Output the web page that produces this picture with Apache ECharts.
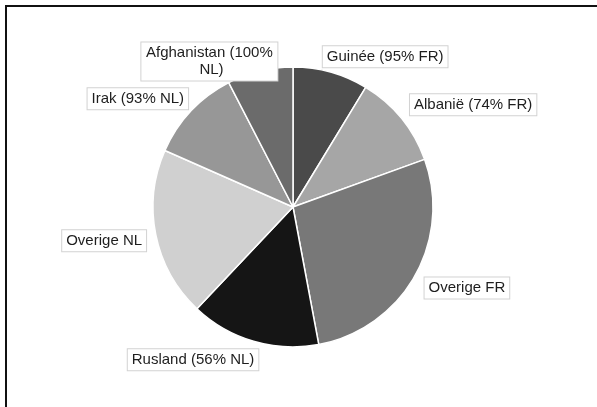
<!DOCTYPE html>
<html>
<head>
<meta charset="utf-8">
<script src="https://cdn.jsdelivr.net/npm/echarts@6/dist/echarts.min.js"></script>
<style>
html,body{margin:0;padding:0;background:#fff;}
#chart{width:597px;height:407px;}
</style>
</head>
<body>
<div id="chart"></div>
<script>
// Data (percent shares, clockwise from 12 o'clock)
var categories = ['Guinée (95% FR)', 'Albanië (74% FR)', 'Overige FR', 'Rusland (56% NL)', 'Overige NL', 'Irak (93% NL)', 'Afghanistan (100% NL)'];
var values = [8.7, 10.8, 27.6, 15.0, 19.6, 10.8, 7.6];
var colors = ['#4a4a4a', '#a6a6a6', '#787878', '#151515', '#d0d0d0', '#979797', '#6b6b6b'];
// label nudges (style only)
var labelNudgeX = [-16, -7, -7, 13, 9, 12, -43];
var labelNudgeY = [-1, -4, 4, 4, 3, -2, 5];

var chart = echarts.init(document.getElementById('chart'), null, {renderer: 'canvas'});
var data = categories.map(function (c, i) {
  var d = {name: c, value: values[i], itemStyle: {color: colors[i]}};
  if (i === 6) { d.label = {width: 128, overflow: 'break'}; }
  return d;
});
chart.setOption({
  animation: false,
  backgroundColor: '#fff',
  graphic: [
    {type: 'rect', shape: {x: 5, y: 5, width: 592, height: 2}, style: {fill: '#111'}},
    {type: 'rect', shape: {x: 5, y: 5, width: 2, height: 402}, style: {fill: '#111'}}
  ],
  series: [{
    type: 'pie',
    center: [293, 207],
    radius: [0, 140],
    startAngle: 90,
    clockwise: true,
    avoidLabelOverlap: false,
    data: data,
    itemStyle: {borderColor: '#ffffff', borderWidth: 1.5},
    label: {
      show: true,
      position: 'outside',
      formatter: '{b}',
      fontFamily: 'Liberation Sans, Arial, sans-serif',
      fontSize: 15,
      color: '#1e1e1e',
      backgroundColor: '#fff',
      borderColor: '#d2d2d2',
      borderWidth: 1,
      padding: [2, 4, 2, 4],
      lineHeight: 17,
      distanceToLabelLine: 4
    },
    labelLine: {show: false, length: 15, length2: 0},
    labelLayout: function (p) {
      var i = p.dataIndex;
      var o = {dx: labelNudgeX[i], dy: labelNudgeY[i]};
      if (i === 6) { o.align = 'center'; }
      return o;
    },
    emphasis: {disabled: true}
  }]
});
</script>
</body>
</html>
